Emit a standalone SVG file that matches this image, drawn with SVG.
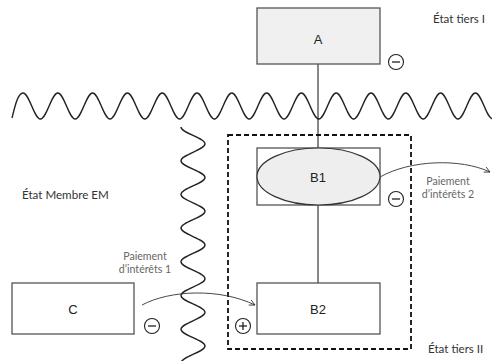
<svg xmlns="http://www.w3.org/2000/svg" width="492" height="361" viewBox="0 0 492 361">
<style>
.box{fill:#ffffff;stroke:#555555;stroke-width:1.3}
.wave{fill:none;stroke:#222222;stroke-width:1.4}
.lbl{font-family:"Liberation Sans",Arial,sans-serif;font-size:13px;fill:#222222;text-anchor:middle}
.st{font-family:Lato,"Open Sans",sans-serif;font-size:11.6px;fill:#333333}
.pay{font-family:Lato,"Open Sans",sans-serif;font-size:10.6px;fill:#666666;text-anchor:middle}
.sign{fill:#ffffff;stroke:#222222;stroke-width:1.1}
.signl{stroke:#222222;stroke-width:1.3}
.conn{fill:none;stroke:#111111;stroke-width:1}
.flow{fill:none;stroke:#333333;stroke-width:0.9}
</style>
<defs>
<marker id="arr" viewBox="0 0 10 10" refX="9" refY="5" markerWidth="7" markerHeight="7" orient="auto" markerUnits="userSpaceOnUse">
<polyline points="1,1 9,5 1,9" fill="none" stroke="#333333" stroke-width="1.2"/>
</marker>
</defs>
<rect width="492" height="361" fill="#ffffff"/>

<g id="borders">
<path class="wave" d="M12,118 C15,106 18,93 23,93 c 6.33,0 11.07,26 17.4,26 s 11.07,-26 17.4,-26 s 11.07,26 17.4,26 s 11.07,-26 17.4,-26 s 11.07,26 17.4,26 s 11.07,-26 17.4,-26 s 11.07,26 17.4,26 s 11.07,-26 17.4,-26 s 11.07,26 17.4,26 s 11.07,-26 17.4,-26 s 11.07,26 17.4,26 s 11.07,-26 17.4,-26 s 11.07,26 17.4,26 s 11.07,-26 17.4,-26 s 11.07,26 17.4,26 s 11.07,-26 17.4,-26 s 11.07,26 17.4,26 s 11.07,-26 17.4,-26 s 11.07,26 17.4,26 s 11.07,-26 17.4,-26 s 11.07,26 17.4,26 s 11.07,-26 17.4,-26 s 11.07,26 17.4,26 s 11.07,-26 17.4,-26 s 11.07,26 17.4,26 s 11.07,-26 17.4,-26 s 11.07,26 17.4,26"/>
<path class="wave" d="M181,127 c 0,6.13 24,10.72 24,16.85 s -24,10.72 -24,16.85 s 24,10.72 24,16.85 s -24,10.72 -24,16.85 s 24,10.72 24,16.85 s -24,10.72 -24,16.85 s 24,10.72 24,16.85 s -24,10.72 -24,16.85 s 24,10.72 24,16.85 s -24,10.72 -24,16.85 s 24,10.72 24,16.85 s -24,10.72 -24,16.85 s 24,10.72 24,16.85 s -24,10.72 -24,16.85"/>
<rect x="228" y="135" width="183" height="214" fill="none" stroke="#111111" stroke-width="1.8" stroke-dasharray="5,3"/>
</g>

<g id="connectors">
<line class="conn" x1="318" y1="64" x2="318" y2="148"/>
<line class="conn" x1="318" y1="205" x2="318" y2="283"/>
<path class="flow" d="M142,305 C170,290 220,288 255,305" marker-end="url(#arr)"/>
<path class="flow" d="M380,177 C410,160 460,158 490,172" marker-end="url(#arr)"/>
</g>

<g id="nodeA">
<rect class="box" x="257" y="8" width="123" height="56" style="fill:#f0f0f0"/>
<text class="lbl" x="318" y="44">A</text>
</g>
<g id="nodeB1">
<rect class="box" x="257" y="148" width="123" height="57"/>
<ellipse cx="318.5" cy="176.5" rx="61.5" ry="28.5" fill="#eeeeee" stroke="#333333" stroke-width="1.2"/>
<text class="lbl" x="318" y="182">B1</text>
</g>
<g id="nodeB2">
<rect class="box" x="257" y="283" width="123" height="51"/>
<text class="lbl" x="318" y="314">B2</text>
</g>
<g id="nodeC">
<rect class="box" x="12" y="283" width="122" height="51"/>
<text class="lbl" x="73" y="314">C</text>
</g>

<g id="signs">
<circle class="sign" cx="396" cy="62" r="7.5"/><line class="signl" x1="392" y1="62" x2="400" y2="62"/>
<circle class="sign" cx="396" cy="199" r="7.5"/><line class="signl" x1="392" y1="199" x2="400" y2="199"/>
<circle class="sign" cx="152" cy="326" r="7.5"/><line class="signl" x1="148" y1="326" x2="156" y2="326"/>
<circle class="sign" cx="243" cy="326" r="7.5"/><line class="signl" x1="239" y1="326" x2="247" y2="326"/><line class="signl" x1="243" y1="322" x2="243" y2="330"/>
</g>

<g id="labels">
<text class="st" x="433" y="23">État tiers I</text>
<text class="st" x="22" y="199">État Membre EM</text>
<text class="st" x="428" y="353">État tiers II</text>
<text class="pay" x="448" y="185">Paiement</text>
<text class="pay" x="448" y="198">d’intérêts 2</text>
<text class="pay" x="145" y="260">Paiement</text>
<text class="pay" x="145" y="273">d’intérêts 1</text>
</g>
</svg>
